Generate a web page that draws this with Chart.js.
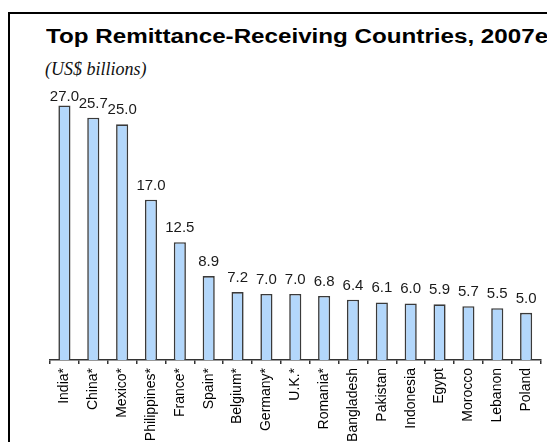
<!DOCTYPE html>
<html>
<head>
<meta charset="utf-8">
<script src="https://cdn.jsdelivr.net/npm/chart.js@4/dist/chart.umd.min.js"></script>
<style>
  html, body { margin: 0; padding: 0; background: #fff; width: 547px; height: 442px; overflow: hidden; }
  #frame { position: absolute; left: 8px; top: 12px; width: 700px; height: 600px; border: 2px solid #000; box-sizing: border-box; }
  #title { position: absolute; left: 46px; top: 27px; font: bold 19.5px "Liberation Sans", Arial, sans-serif; line-height: 1; color: #000; white-space: nowrap; transform: scaleX(1.24); transform-origin: 0 0; }
  #subtitle { position: absolute; left: 45px; top: 60px; font: italic 18px "Liberation Serif", serif; line-height: 1; color: #111; white-space: nowrap; }
  #chart { position: absolute; left: 0; top: 0; }
</style>
</head>
<body>
<div id="frame"></div>
<div id="title">Top Remittance-Receiving Countries, 2007e</div>
<div id="subtitle">(US$ billions)</div>
<canvas id="chart" width="547" height="442"></canvas>
<script>
// Remittance inflows by country, 2007 estimates (US$ billions); * = estimate
const countries = ['India*', 'China*', 'Mexico*', 'Philippines*', 'France*', 'Spain*', 'Belgium*', 'Germany*', 'U.K.*', 'Romania*', 'Bangladesh', 'Pakistan', 'Indonesia', 'Egypt', 'Morocco', 'Lebanon', 'Poland'];
const remittances = [27.0, 25.7, 25.0, 17.0, 12.5, 8.9, 7.2, 7.0, 7.0, 6.8, 6.4, 6.1, 6.0, 5.9, 5.7, 5.5, 5.0];

// Writes each bar's value above it
const valueLabels = {
  id: 'valueLabels',
  afterDatasetsDraw(chart) {
    const ctx = chart.ctx;
    const meta = chart.getDatasetMeta(0);
    const top = chart.chartArea.top;
    ctx.save();
    ctx.font = '15px "Liberation Sans", Arial, sans-serif';
    ctx.fillStyle = '#1a1a1a';
    ctx.textAlign = 'center';
    ctx.textBaseline = 'alphabetic';
    meta.data.forEach((bar, i) => {
      const y = Math.max(bar.y - 10, top + 5);
      ctx.fillText(remittances[i].toFixed(1), bar.x, y);
    });
    ctx.restore();
  }
};

new Chart(document.getElementById('chart'), {
  type: 'bar',
  data: {
    labels: countries,
    datasets: [{
      data: remittances,
      backgroundColor: '#b3d7fb',
      borderColor: '#3a3a3a',
      borderWidth: 1.6,
      barPercentage: 0.42,
      categoryPercentage: 1.0
    }]
  },
  options: {
    responsive: false,
    devicePixelRatio: 1,
    animation: false,
    layout: { padding: { top: 96, left: 50, right: 3, bottom: 0 } },
    plugins: { legend: { display: false }, tooltip: { enabled: false } },
    scales: {
      x: {
        afterFit(scale) { scale.height = 82; },
        grid: { display: true, offset: true, drawOnChartArea: false, drawTicks: true, tickLength: 4, color: '#333', lineWidth: 1.5 },
        border: { display: true, color: '#333', width: 1.5 },
        ticks: {
          maxRotation: 90, minRotation: 90, padding: 4, autoSkip: false,
          color: '#000',
          font: { family: '"Liberation Sans", Arial, sans-serif', size: 14 }
        }
      },
      y: { display: false, min: 0, max: 28 }
    }
  },
  plugins: [valueLabels]
});
</script>
</body>
</html>
